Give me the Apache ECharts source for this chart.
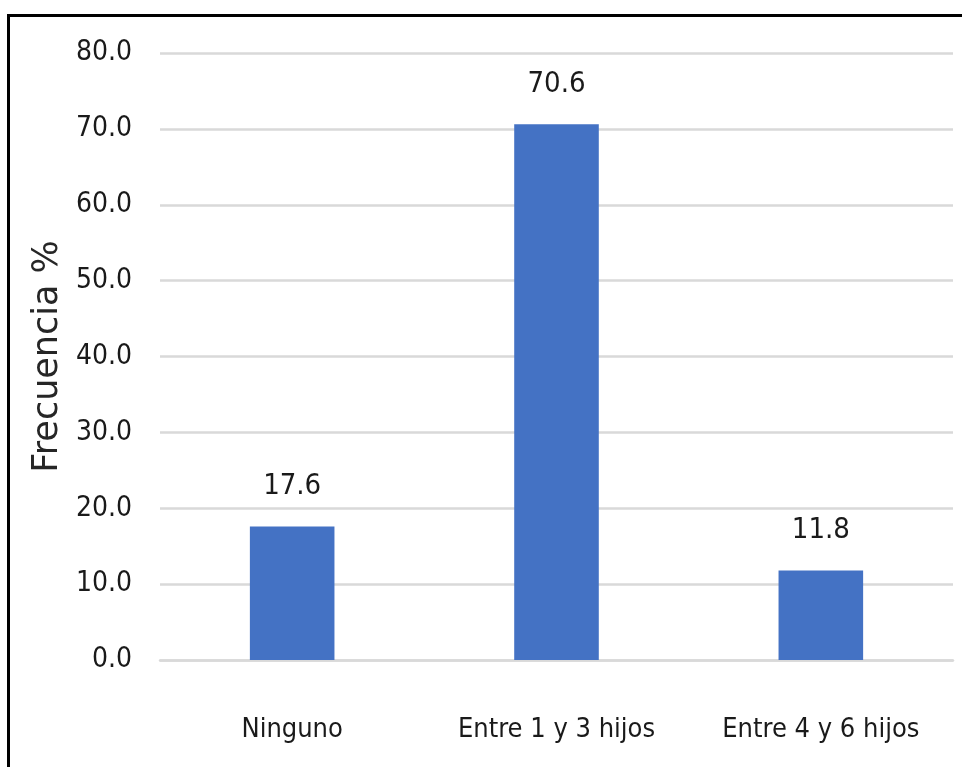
<!DOCTYPE html>
<html>
<head>
<meta charset="utf-8">
<script src="https://cdn.jsdelivr.net/npm/echarts@6/dist/echarts.min.js"></script>
<style>
  html, body { margin: 0; padding: 0; background: #ffffff; }
  #chart { width: 962px; height: 767px; }
</style>
</head>
<body>
<div id="chart"></div>
<script>
// Number of children: share of respondents per group
const categories = ['Ninguno', 'Entre 1 y 3 hijos', 'Entre 4 y 6 hijos'];
const frecuencia = [17.6, 70.6, 11.8];
const yTicks = { min: 0, max: 80, interval: 10 };

const narrow = '"Liberation Sans Narrow", "DejaVu Sans Condensed", sans-serif';

const chart = echarts.init(document.getElementById('chart'), null, { renderer: 'canvas' });

chart.setOption({
  animation: false,
  backgroundColor: '#ffffff',
  graphic: [{
    type: 'rect',
    shape: { x: 8.5, y: 15.5, width: 1200, height: 1200 },
    style: { fill: 'none', stroke: '#000000', lineWidth: 3 },
    z: 10
  }],
  grid: { left: 160, right: 9, top: 53, bottom: 107 },
  xAxis: {
    type: 'category',
    data: categories,
    axisLine: { show: true, lineStyle: { color: '#d9d9d9', width: 2.5 } },
    axisTick: { show: false },
    axisLabel: {
      interval: 0,
      margin: 56,
      fontFamily: narrow,
      fontSize: 27,
      color: '#1a1a1a'
    }
  },
  yAxis: {
    type: 'value',
    min: yTicks.min,
    max: yTicks.max,
    interval: yTicks.interval,
    name: 'Frecuencia %',
    nameLocation: 'middle',
    nameRotate: 90,
    nameGap: 84,
    nameTextStyle: {
      fontFamily: '"DejaVu Sans", sans-serif',
      fontSize: 35,
      color: '#262626'
    },
    axisLine: { show: false },
    axisTick: { show: false },
    splitLine: { lineStyle: { color: '#d9d9d9', width: 2.5 } },
    axisLabel: {
      margin: 28,
      fontFamily: narrow,
      fontSize: 28,
      color: '#1a1a1a',
      formatter: v => v.toFixed(1)
    }
  },
  series: [{
    type: 'bar',
    data: frecuencia,
    barWidth: '32%',
    itemStyle: { color: '#4472c4' },
    label: {
      show: true,
      position: 'top',
      distance: 25,
      fontFamily: narrow,
      fontSize: 29,
      color: '#1a1a1a',
      formatter: p => p.value.toFixed(1)
    }
  }]
});
</script>
</body>
</html>
